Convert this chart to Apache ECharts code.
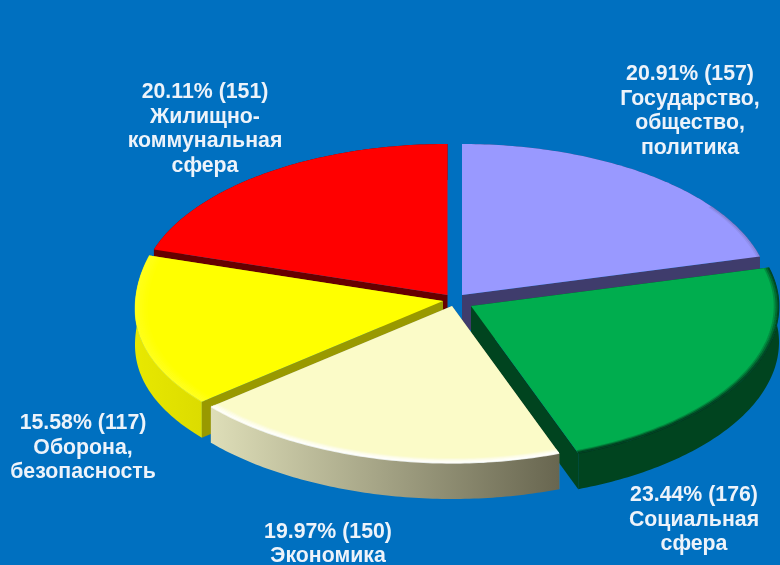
<!DOCTYPE html>
<html>
<head>
<meta charset="utf-8">
<style>
html,body{margin:0;padding:0;background:#0070C0;}
#chart{width:780px;height:565px;}
</style>
<script src="https://cdn.jsdelivr.net/npm/echarts@6/dist/echarts.min.js"></script>
</head>
<body>
<div id="chart"></div>
<script>
// clockwise from 12 o'clock
var names = ['Государство,\nобщество,\nполитика', 'Социальная\nсфера', 'Экономика', 'Оборона,\nбезопасность', 'Жилищно-\nкоммунальная\nсфера']
var counts = [157, 176, 150, 117, 151]
var percents = ['20.91%', '23.44%', '19.97%', '15.58%', '20.11%']

// look of the slices
var topColors = ['#9999FF', '#00AD4E', '#FBFBC8', '#FFFF00', '#FF0000']
var cutColors = ['#3F3C6C', '#00441F', '#8A8A66', '#999900', '#660000']
var wallFrom = ['#3F3C6C', '#00441F', '#DEDEB8', '#E8E800', '#660000']
var wallTo = ['#3F3C6C', '#00441F', '#686650', '#DCDC00', '#660000']
var rimColors = ['#6A6AA8', '#00331A', '#FFFFFF', '#FFFF33', '#CC0000']
var rimAlpha = [0.35, 0.8, 0.8, 0.5, 0.2]
var rimLayers = [2, 3, 5, 7, 2]
var offsets = [[7, -5], [16, 6], [-3, 6], [-12, 1], [-7.5, -5]]
var paintRank = [1, 3, 4, 2, 0]
var labelPos = [[690, 111], [694, 520], [328, 544], [83, 448], [205, 129]]

var cx = 455, cy = 300, rx = 308, ryBack = 151, ryFront = 157, depth = 36, leftSag = 8
var total = counts.reduce(function (a, b) { return a + b }, 0)

// the disc sags a little on the left side, like the perspective in the original
function sag(t) {
  var deg = t * 180 / Math.PI
  if (deg > 180 && deg <= 270) return leftSag * Math.pow(Math.sin(t), 4)
  if (deg > 270 && deg < 288) return leftSag * (288 - deg) / 18
  return 0
}
function pt(ox, oy, t, k, dy) {
  var c = Math.cos(t)
  return [ox + rx * k * Math.sin(t), oy + (-(c > 0 ? ryBack : ryFront) * c + sag(t)) * k + (dy || 0)]
}
function arc(ox, oy, t0, t1, k, dy) {
  var res = [], n = Math.max(2, Math.ceil((t1 - t0) / 0.015))
  for (var i = 0; i <= n; i++) {
    res.push(pt(ox, oy, t0 + (t1 - t0) * i / n, k, dy))
  }
  return res
}

function renderSlice(params, api) {
  var i = params.dataIndex
  var before = 0
  for (var j = 0; j < i; j++) before += counts[j]
  var t0 = before / total * Math.PI * 2
  var t1 = (before + api.value(0)) / total * Math.PI * 2
  var ox = cx + offsets[i][0], oy = cy + offsets[i][1]
  var z = paintRank[i] * 100
  var kids = []

  function cut(t) {
    var e = pt(ox, oy, t, 1)
    kids.push({
      type: 'polygon', z2: z + 1,
      shape: { points: [[ox, oy], e, [e[0], e[1] + depth], [ox, oy + depth]] },
      style: { fill: cutColors[i] }
    })
  }
  cut(t0)
  cut(t1)

  // outer wall
  var top = arc(ox, oy, t0, t1, 1)
  var bottom = arc(ox, oy, t0, t1, 1, depth).reverse()
  kids.push({
    type: 'polygon', z2: z + 2,
    shape: { points: top.concat(bottom) },
    style: {
      fill: new echarts.graphic.LinearGradient(0, 0, 1, 0, [
        { offset: 0, color: wallFrom[i] }, { offset: 1, color: wallTo[i] }
      ])
    }
  })

  // top face
  kids.push({
    type: 'polygon', z2: z + 3,
    shape: { points: [[ox, oy]].concat(top) },
    style: { fill: topColors[i] }
  })

  // soft bevel along the rim, front part only
  var a0 = Math.max(t0, Math.PI * 0.3), a1 = Math.min(t1, Math.PI * 1.6)
  if (a1 > a0) {
    for (var l = 0; l < rimLayers[i]; l++) {
      kids.push({
        type: 'polyline', z2: z + 4,
        shape: { points: arc(ox, oy, a0, a1, 1 - l * 0.006 - 0.002) },
        style: { fill: null, stroke: rimColors[i], lineWidth: 2, opacity: rimAlpha[i] * (1 - l / rimLayers[i]) }
      })
    }
  }

  kids.push({
    type: 'text', z2: 1000,
    style: {
      text: percents[i] + ' (' + api.value(0) + ')\n' + names[i],
      x: labelPos[i][0], y: labelPos[i][1],
      align: 'center', verticalAlign: 'middle',
      fill: '#EDF3FA', lineHeight: 24.5,
      font: 'bold 21.3px "Liberation Sans", Arial, sans-serif'
    }
  })
  return { type: 'group', children: kids }
}

var myChart = echarts.init(document.getElementById('chart'))
myChart.setOption({
  backgroundColor: '#0070C0',
  animation: false,
  series: [{
    type: 'custom',
    coordinateSystem: 'none',
    silent: true,
    renderItem: renderSlice,
    data: counts.map(function (v) { return [v] })
  }]
})
</script>
</body>
</html>
